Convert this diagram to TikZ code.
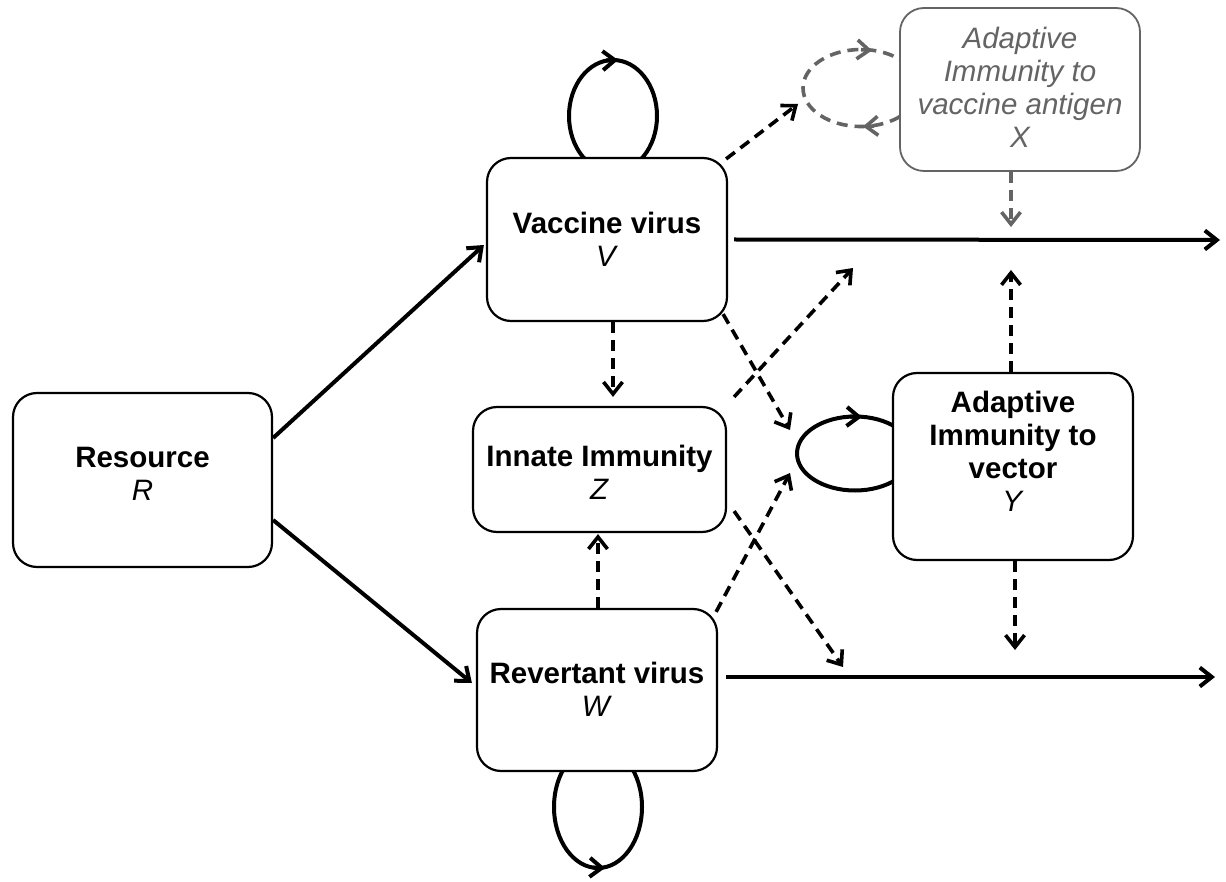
\documentclass[tikz,border=0pt]{standalone}
\usepackage{fontspec}
\setmainfont{Liberation Sans}
\usetikzlibrary{arrows.meta,calc}
\definecolor{xgray}{RGB}{100,100,100}
\begin{document}
\begin{tikzpicture}[x=1pt,y=-1pt,
  box/.style={draw,line width=2.2pt,rounded corners=24pt,fill=white,inner sep=0pt},
  graybox/.style={box,draw=xgray,line width=1.8pt},
  lbl/.style={align=center,font=\fontsize{29.5}{33}\selectfont,inner sep=0pt},
  tipstyle/.style={-{Straight Barb[length=12pt,width=19pt]}},
  solidar/.style={line width=4pt,tipstyle},
  dashar/.style={line width=3.6pt,dash pattern=on 11pt off 7pt,tipstyle},
  graydash/.style={dashar,draw=xgray},
  loopline/.style={line width=4pt},
  grayloop/.style={line width=3.6pt,dash pattern=on 11pt off 7pt,draw=xgray},
]
\useasboundingbox (0,0) rectangle (1226,882);

% self loops (drawn first, boxes cover their inner parts)
\draw[loopline] (613,116) ellipse[x radius=44,y radius=56];
\draw[loopline,tipstyle] (606,60.5) -- (618,60);
\draw[loopline] (598,807) ellipse[x radius=44,y radius=61];
\draw[loopline,tipstyle] (593,867.5) -- (605,868);
\draw[loopline] (855,453.5) ellipse[x radius=58,y radius=37];
\draw[loopline,tipstyle] (850,416.6) -- (862,417);
\draw[grayloop] (861,88) ellipse[x radius=58,y radius=38.5];
\draw[line width=3.6pt,draw=xgray,tipstyle] (861,49.7) -- (872,50.5);
\draw[line width=3.6pt,draw=xgray,tipstyle] (874,126) -- (863,126.5);

% boxes
\node[box,minimum width=259pt,minimum height=174pt] (R) at (142.5,480) {};
\node[lbl] (Rt) at (142.5,474) {\textbf{Resource}\\\textit{R}};
\node[box,minimum width=240pt,minimum height=163pt] (V) at (607,239.5) {};
\node[lbl] (Vt) at (607,239) {\textbf{Vaccine virus}\\\textit{V}};
\node[box,minimum width=253pt,minimum height=125pt] (Z) at (599.5,469.5) {};
\node[lbl] (Zt) at (599.5,472) {\textbf{Innate Immunity}\\\textit{Z}};
\node[box,minimum width=240pt,minimum height=162pt] (W) at (597,690) {};
\node[lbl] (Wt) at (597,689) {\textbf{Revertant virus}\\\textit{W}};
\node[graybox,minimum width=240pt,minimum height=163pt] (X) at (1020,89.5) {};
\node[lbl,text=xgray,font=\fontsize{29.5}{33}\selectfont\itshape] (Xt) at (1020,87)
  {Adaptive\\Immunity to\\vaccine antigen\\X};
\node[box,minimum width=240pt,minimum height=187pt] (Y) at (1013,466.5) {};
\node[lbl] (Yt) at (1013,451) {\textbf{Adaptive}\\\textbf{Immunity to}\\\textbf{vector}\\\textit{Y}};

% free ends
\coordinate (Vend) at (1220,240);
\coordinate (Wend) at (1215,677);
\coordinate (XL) at (798,104);
\coordinate (YLa) at (790,430);
\coordinate (YLb) at (790,473);
\coordinate (Vmid) at (853,268);
\coordinate (Wmid) at (843,667);
\coordinate (XV) at (1011,227);
\coordinate (YV) at (1011,270);
\coordinate (YW) at (1015,650);

% solid connectors
\draw[solidar] ([yshift=42pt]R.east) -- ([yshift=-5.5pt,xshift=-2pt]V.west);
\draw[solidar] ([yshift=-40pt]R.east) -- ([yshift=7pt,xshift=-4pt]W.west);
\draw[solidar] ([xshift=6pt]V.east) -- (Vend);
\draw[solidar] ([xshift=8pt,yshift=13pt]W.east) -- (Wend);

% dashed connectors
\draw[dashar] ([xshift=6pt]V.south) -- ([xshift=13.5pt,yshift=9pt]Z.north);
\draw[dashar] ([xshift=1pt]W.north) -- ([xshift=-1.5pt,yshift=-1pt]Z.south);
\draw[dashar] ([xshift=-2pt,yshift=-2pt]V.north east) -- (XL);
\draw[dashar] ([xshift=-5pt,yshift=8pt]V.south east) -- (YLa);
\draw[dashar] ([xshift=7pt,yshift=9pt]Z.north east) -- (Vmid);
\draw[dashar] ([xshift=-2pt,yshift=-4pt]W.north east) -- (YLb);
\draw[dashar] ([xshift=7pt,yshift=22pt]Z.south east) -- (Wmid);
\draw[graydash] ([xshift=-9pt]X.south) -- (XV);
\draw[dashar] ([xshift=-2pt]Y.north) -- (YV);
\draw[dashar] ([xshift=2pt]Y.south) -- (YW);
\end{tikzpicture}
\end{document}
